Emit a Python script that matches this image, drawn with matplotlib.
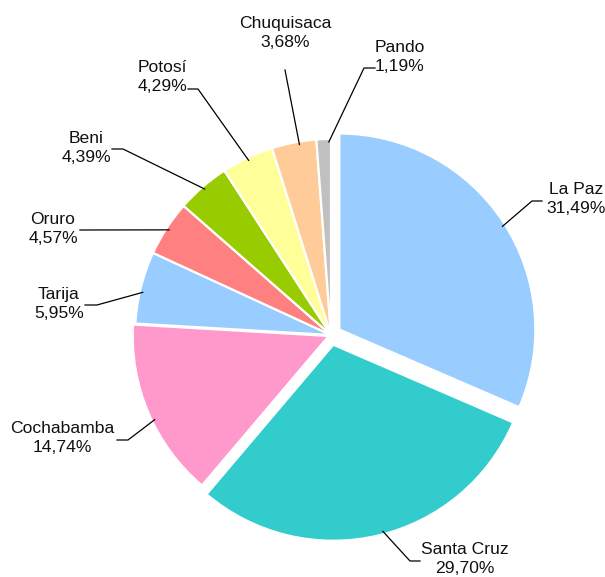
import matplotlib
matplotlib.use("Agg")
import matplotlib.pyplot as plt
import numpy as np

# ---- data ----
departments = ["La Paz", "Santa Cruz", "Cochabamba", "Tarija", "Oruro",
               "Beni", "Potosí", "Chuquisaca", "Pando"]
shares = [31.49, 29.70, 14.74, 5.95, 4.57, 4.39, 4.29, 3.68, 1.19]
share_labels = ["31,49%", "29,70%", "14,74%", "5,95%", "4,57%",
                "4,39%", "4,29%", "3,68%", "1,19%"]

# ---- style / layout ----
colors = ["#99CCFF", "#33CCCC", "#FF99CC", "#99CCFF", "#FF8080",
          "#99CC00", "#FFFF99", "#FFCC99", "#C0C0C0"]
explode_px = [10, 10, 2.5, 0, 0, 0, 0, 0, 0]   # offsets in pixels
W, H = 605, 577
cx, cy, R = 331, 335, 196          # pixel coords (y from top)

# label centre (pixel, y from top) and elbow point of leader line
label_pos = [(576, 199), (465, 559), (62, 438), (59, 304), (53, 229),
             (86, 148), (162, 77), (285, 33), (400, 57)]
elbows = [[(542, 201), (532, 201)],
          [(420, 561), (410, 561)],
          [(117, 440), (128, 440)],
          [(85, 305), (97, 305)],
          [(80, 230)],
          [(112, 149), (123, 149)],
          [(188, 89), (198, 89)],
          [(285, 70)],
          [(375, 68), (364, 68)]]
leader_angle_shift = [-1, 1.7, 2.5, 1.3, 0, 0, 0, -1.5, -1.5]  # degrees

fig = plt.figure(figsize=(W / 100, H / 100), dpi=100)
ax = fig.add_axes([0, 0, 1, 1])

wedges, _ = ax.pie(shares, colors=colors, explode=explode_px, startangle=90,
                   counterclock=False, radius=R, center=(cx, H - cy),
                   wedgeprops=dict(edgecolor="white", linewidth=1.6),
                   frame=True)
ax.set_xlim(0, W)
ax.set_ylim(0, H)
ax.set_aspect("equal")
ax.axis("off")

font = dict(family=["Liberation Sans", "DejaVu Sans"], fontsize=12.6, color="#111111")
for w, name, lab, (lx, ly), elb, sh in zip(wedges, departments, share_labels,
                                           label_pos, elbows, leader_angle_shift):
    ax.text(lx, H - ly, f"{name}\n{lab}", ha="center", va="center",
            linespacing=1.3, **font)
    mid = np.deg2rad((w.theta1 + w.theta2) / 2 + sh)
    wx, wy = w.center
    ex = wx + 0.985 * w.r * np.cos(mid)
    ey = wy + 0.985 * w.r * np.sin(mid)
    xs = [p[0] for p in elb] + [ex]
    ys = [H - p[1] for p in elb] + [ey]
    ax.plot(xs, ys, color="black", linewidth=0.9)

fig.savefig("out.png", dpi=100)
